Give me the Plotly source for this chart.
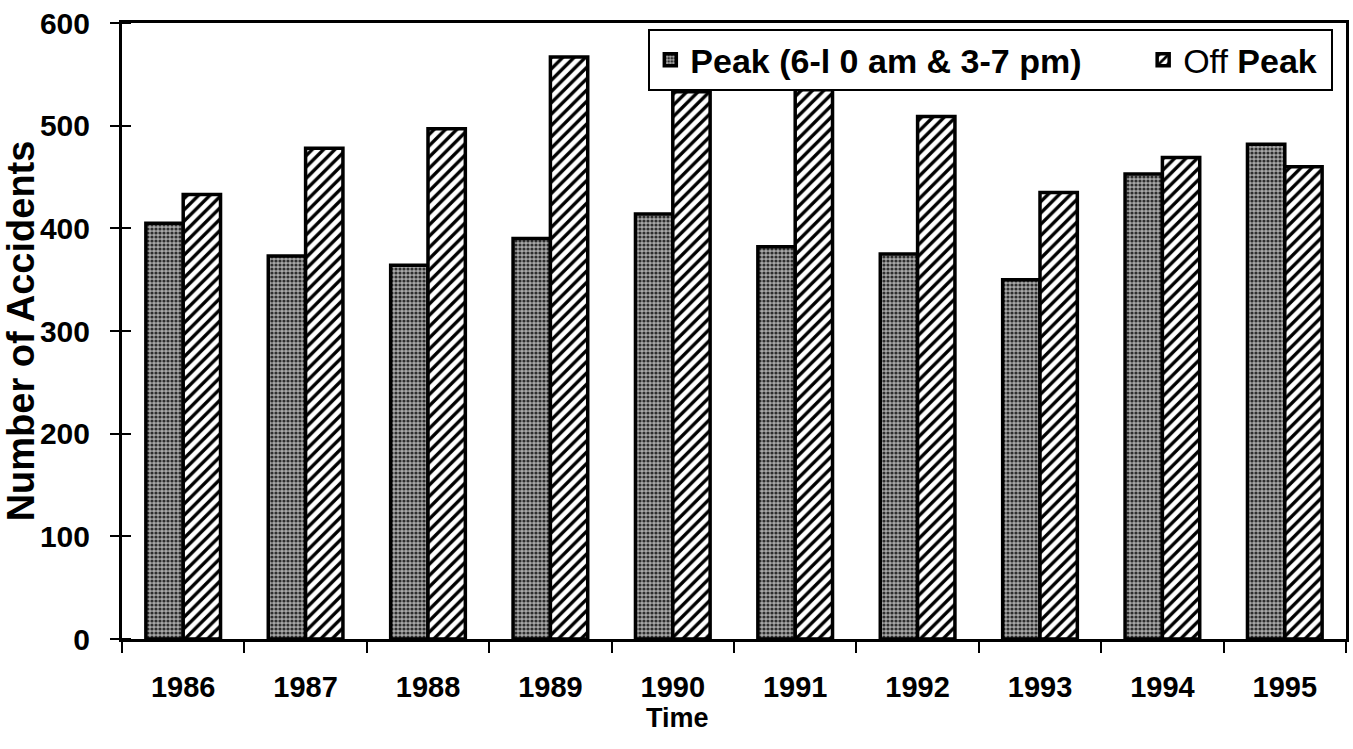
import plotly.graph_objects as go

years = ["1986", "1987", "1988", "1989", "1990", "1991", "1992", "1993", "1994", "1995"]
peak = [405, 373, 364, 390, 414, 382, 375, 350, 453, 482]
off_peak = [433, 478, 497, 567, 533, 535, 509, 435, 469, 460]
y_ticks = [0, 100, 200, 300, 400, 500, 600]

FONT = "Liberation Sans"
PAD = "&nbsp;" * 6

fig = go.Figure()
fig.add_trace(go.Bar(
    x=years, y=peak, name="<b>Peak (6-l 0 am & 3-7 pm)</b>" + PAD,
    marker=dict(
        color="#8c8c8c",
        line=dict(color="black", width=3.5),
        pattern=dict(shape=".", bgcolor="#a8a8a8", fgcolor="#2e2e2e",
                     size=4, solidity=0.5, fillmode="replace"),
    ),
))
fig.add_trace(go.Bar(
    x=years, y=off_peak, name="Off <b>Peak</b>&nbsp;",
    marker=dict(
        color="white",
        line=dict(color="black", width=3.5),
        pattern=dict(shape="/", bgcolor="white", fgcolor="black",
                     size=8, solidity=0.42, fillmode="replace"),
    ),
))

fig.update_layout(
    width=1353, height=749,
    margin=dict(l=122, r=7, t=23, b=110, autoexpand=False),
    paper_bgcolor="white", plot_bgcolor="white",
    barmode="group", bargap=0.39, bargroupgap=0,
    font=dict(family=FONT, color="black"),
    showlegend=True,
    legend=dict(
        orientation="h", x=0.43, y=0.99, xanchor="left", yanchor="top",
        bordercolor="black", borderwidth=2, bgcolor="white",
        font=dict(family=FONT, size=34, color="black"),
        itemwidth=30, tracegroupgap=0,
    ),
    xaxis=dict(
        type="category",
        showline=True, linecolor="black", linewidth=3, mirror=True,
        ticks="outside", tickson="boundaries", ticklen=11, tickwidth=2, tickcolor="black",
        tickfont=dict(family=FONT, size=29, color="black", weight="bold"),
        ticklabelstandoff=20,
        showgrid=False,
    ),
    yaxis=dict(
        range=[0, 600], tickvals=y_ticks,
        showline=True, linecolor="black", linewidth=3, mirror=True,
        ticks="outside", ticklen=9, tickwidth=2, tickcolor="black",
        minor=dict(tickvals=y_ticks, ticks="inside", ticklen=9, tickwidth=2,
                   tickcolor="black", showgrid=False),
        tickfont=dict(family=FONT, size=30, color="black", weight="bold"),
        ticklabelstandoff=14,
        showgrid=False, zeroline=False,
        title=dict(text="<b>Number of Accidents</b>", font=dict(family=FONT, size=38, color="black"), standoff=6),
    ),
    annotations=[dict(
        text="<b>Time</b>", xref="paper", yref="paper", x=0.454, y=-0.128,
        xanchor="center", yanchor="middle", showarrow=False,
        font=dict(family=FONT, size=27, color="black"),
    )],
)

fig.write_html("out.html")
